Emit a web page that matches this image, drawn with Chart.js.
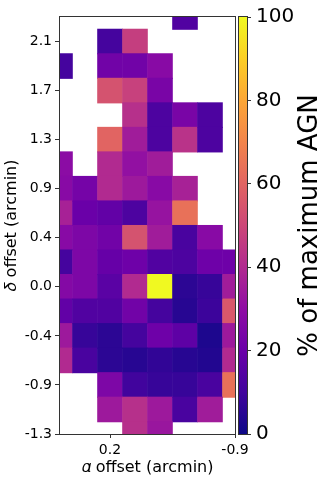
<!DOCTYPE html>
<html>
<head>
<meta charset="utf-8">
<script src="https://cdn.jsdelivr.net/npm/chart.js@4"></script>
<style>
  html, body { margin: 0; padding: 0; background: #fff; }
  #agnMap { display: block; }
</style>
</head>
<body>
<canvas id="agnMap" width="318" height="477"></canvas>
<script>
// cell centres (arcmin)
const alphaCols = [0.64, 0.42, 0.20, -0.02, -0.24, -0.46, -0.68, -0.90];
const deltaRows = [2.354, 2.140, 1.926, 1.712, 1.498, 1.284, 1.070, 0.856, 0.642,
                   0.428, 0.214, 0, -0.214, -0.428, -0.642, -0.856, -1.070, -1.284];

// % of maximum AGN, top row first, null = no data
const agnPercent = [
  [null, null, null, null, null, 14, null, null],
  [null, null, 11, 47, null, null, null, null],
  [11, null, 22, 22, 28, null, null, null],
  [null, null, 54, 48, 24, null, null, null],
  [null, null, null, 42, 13, 24, 13, null],
  [null, null, 60, 35, 13, 43, 13, null],
  [29, null, 40, 31, 35, null, null, null],
  [28, 23, 40, 34, 28, 37, null, null],
  [37, 20, 18, 13, 32, 64, null, null],
  [28, 25, 22, 54, 35, 12, 28, null],
  [11, 25, 19, 21, 14, 13, 21, 21],
  [27, 25, 16, 40, 100, 6, 8, 35],
  [18, 14, 14, 22, 11, 5, 9, 56],
  [34, 8, 6, 11, 21, 17, 3, 34],
  [40, 12, 6, 5, 7, 5, 4, 40],
  [null, null, 25, 10, 8, 8, 12, 64],
  [null, null, 34, 42, 34, 12, 35, null],
  [null, null, null, 42, 33, null, null, null],
];

const alphaTicks = [0.20, -0.90];
const alphaTickLabels = ['0.2', '-0.9'];
const deltaTicks = [2.140, 1.712, 1.284, 0.856, 0.428, 0, -0.428, -0.856, -1.284];
const deltaTickLabels = ['2.1', '1.7', '1.3', '0.9', '0.4', '0.0', '-0.4', '-0.9', '-1.3'];
const cbTicks = [0, 20, 40, 60, 80, 100];
const cbTitle = '% of maximum AGN';

const plasmaStops = ['#0d0887', '#41049d', '#6a00a8', '#8f0da4', '#b12a90', '#cc4778',
                     '#e16462', '#f2844b', '#fca636', '#fcce25', '#f0f921'];

function hexToRgb(h) {
  return [1, 3, 5].map(i => parseInt(h.slice(i, i + 2), 16));
}

function plasma(t) {
  t = Math.max(0, Math.min(1, t));
  const p = t * (plasmaStops.length - 1);
  const i = Math.min(plasmaStops.length - 2, Math.floor(p));
  const f = p - i;
  const a = hexToRgb(plasmaStops[i]), b = hexToRgb(plasmaStops[i + 1]);
  const c = a.map((v, k) => Math.round(v + (b[k] - v) * f));
  return `rgb(${c[0]},${c[1]},${c[2]})`;
}

const cells = [];
agnPercent.forEach((row, r) => row.forEach((v, c) => {
  if (v !== null) cells.push({ x: alphaCols[c], y: deltaRows[r], v });
}));

function cellRadius(ctx) {
  const xs = ctx.chart.scales.x;
  const w = Math.abs(xs.getPixelForValue(alphaCols[1]) - xs.getPixelForValue(alphaCols[0]));
  return (w + 0.6) / Math.SQRT2;
}

const framePlugin = {
  id: 'frame',
  afterDatasetsDraw(chart) {
    const { ctx, chartArea: a } = chart;
    ctx.save();
    ctx.strokeStyle = '#333';
    ctx.lineWidth = 1;
    ctx.strokeRect(a.left - 0.5, a.top - 0.5, a.right - a.left + 1, a.bottom - a.top + 1);
    ctx.restore();
  }
};

const colorbarPlugin = {
  id: 'colorbar',
  afterDraw(chart) {
    const { ctx, chartArea: a } = chart;
    const cb = chart.scales.cb;
    const yTop = cb.getPixelForValue(100), yBot = cb.getPixelForValue(0);
    const x0 = a.right + 4, w = 8;
    ctx.save();
    // hide the inner part of the tick marks, the bar sits there
    ctx.fillStyle = '#fff';
    ctx.fillRect(a.right + 1, yTop - 1, x0 + w - a.right - 1, yBot - yTop + 2);
    const grad = ctx.createLinearGradient(0, yBot, 0, yTop);
    plasmaStops.forEach((c, i) => grad.addColorStop(i / (plasmaStops.length - 1), c));
    ctx.fillStyle = grad;
    ctx.fillRect(x0, yTop, w, yBot - yTop);
    ctx.strokeStyle = '#333';
    ctx.lineWidth = 1;
    ctx.strokeRect(x0 - 0.5, yTop - 0.5, w + 1, yBot - yTop + 1);

    ctx.translate(chart.width - 1, (yTop + yBot) / 2);
    ctx.rotate(-Math.PI / 2);
    ctx.font = '26px "DejaVu Sans"';
    ctx.fillStyle = '#000';
    ctx.textAlign = 'center';
    ctx.textBaseline = 'alphabetic';
    ctx.fillText(cbTitle, 0, 0);
    ctx.restore();
  }
};

Chart.defaults.font.family = '"DejaVu Sans", sans-serif';
Chart.defaults.color = '#000';

new Chart(document.getElementById('agnMap'), {
  type: 'scatter',
  data: {
    datasets: [{
      data: cells,
      pointStyle: 'rect',
      pointRadius: cellRadius,
      pointHoverRadius: cellRadius,
      backgroundColor: ctx => plasma(ctx.raw ? ctx.raw.v / 100 : 0),
      borderWidth: 0,
      clip: 0,
    }]
  },
  options: {
    responsive: false,
    devicePixelRatio: 1,
    animation: false,
    events: [],
    layout: { padding: { top: 9, left: 0, right: 0, bottom: 0 } },
    plugins: { legend: { display: false }, tooltip: { enabled: false } },
    scales: {
      x: {
        type: 'linear',
        position: 'bottom',
        reverse: true,
        min: -0.90,
        max: 0.64,
        afterBuildTicks: s => { s.ticks = alphaTicks.map(v => ({ value: v })); },
        afterFit: s => { s.height = 43; },
        border: { display: false },
        grid: { drawOnChartArea: false, tickLength: 4, tickColor: '#333' },
        ticks: {
          autoSkip: false, maxRotation: 0, padding: 4,
          font: { size: 14 },
          callback: (v, i) => alphaTickLabels[i]
        },
        title: {
          display: true, text: '𝛼 offset (arcmin)',
          font: { size: 16 }, padding: { top: 0, bottom: 0 }
        }
      },
      y: {
        type: 'linear',
        position: 'left',
        min: -1.284,
        max: 2.354,
        afterBuildTicks: s => { s.ticks = deltaTicks.map(v => ({ value: v })); },
        afterFit: s => { s.width = 60; },
        border: { display: false },
        grid: { drawOnChartArea: false, tickLength: 5, tickColor: '#333' },
        ticks: {
          autoSkip: false, padding: 3,
          font: { size: 14 },
          callback: (v, i) => deltaTickLabels[i]
        },
        title: {
          display: true, text: '𝛿 offset (arcmin)',
          font: { size: 16 }, padding: { top: 2, bottom: 0 }
        }
      },
      cb: {
        type: 'linear',
        position: 'right',
        min: 0,
        max: 100,
        afterBuildTicks: s => { s.ticks = cbTicks.map(v => ({ value: v })); },
        afterFit: s => { s.width = 83; },
        border: { display: false },
        grid: { drawOnChartArea: false, tickLength: 16, tickColor: '#333' },
        ticks: { autoSkip: false, padding: 5, font: { size: 20 } }
      }
    }
  },
  plugins: [framePlugin, colorbarPlugin]
});
</script>
</body>
</html>
